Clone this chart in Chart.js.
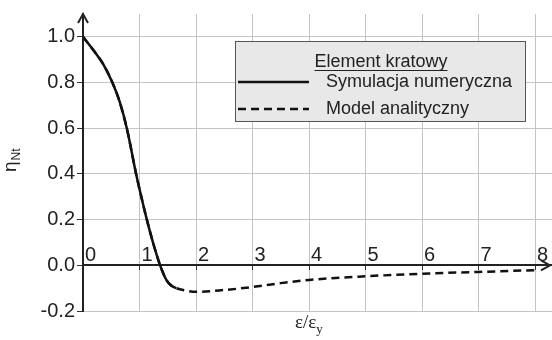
<!DOCTYPE html>
<html>
<head>
<meta charset="utf-8">
<script src="https://cdn.jsdelivr.net/npm/chart.js@4/dist/chart.umd.min.js"></script>
<style>
  body { margin: 0; background: #fff; }
  #wrap { width: 552px; height: 340px; position: relative; }
</style>
</head>
<body>
<div id="wrap"><canvas id="wykres"></canvas></div>
<script>
// eps/eps_y i eta_Nt
const xSymulacja = [0, 0.195, 0.36, 0.52, 0.65, 0.775, 0.94, 1.01, 1.13, 1.25, 1.365, 1.48, 1.56, 1.65];
const ySymulacja = [1.0, 0.938, 0.88, 0.8, 0.715, 0.6, 0.4, 0.323, 0.2, 0.09, 0.0, -0.066, -0.088, -0.1];

const xModel = [0, 0.195, 0.36, 0.52, 0.65, 0.775, 0.94, 1.01, 1.13, 1.25, 1.365, 1.48, 1.56, 1.65, 1.8, 2.0, 2.5, 3.0, 3.5, 4.0, 5.0, 6.0, 7.0, 8.0];
const yModel = [1.0, 0.938, 0.88, 0.8, 0.715, 0.6, 0.4, 0.323, 0.2, 0.09, 0.0, -0.066, -0.088, -0.1, -0.11, -0.116, -0.108, -0.095, -0.078, -0.064, -0.048, -0.037, -0.029, -0.021];

const xTicki = [0, 1, 2, 3, 4, 5, 6, 7, 8];
const yTicki = [-0.2, 0.0, 0.2, 0.4, 0.6, 0.8, 1.0];

const tytulLegendy = 'Element kratowy';
const FONT = '"Liberation Sans", Arial, sans-serif';

const pary = (xs, ys) => xs.map((x, i) => ({ x: x, y: ys[i] }));

// osie ze strzalkami, podpisy osi, etykiety x nad osia i legenda w ramce
const rysunekOsi = {
  id: 'rysunekOsi',
  afterDraw(chart) {
    const ctx = chart.ctx;
    const a = chart.chartArea;
    const sx = chart.scales.x, sy = chart.scales.y;
    const x0 = sx.getPixelForValue(0);
    const y0 = sy.getPixelForValue(0);
    ctx.save();

    // strzalki
    ctx.strokeStyle = '#222';
    ctx.lineWidth = 2;
    ctx.beginPath();
    ctx.moveTo(x0, sy.getPixelForValue(1.0));
    ctx.lineTo(x0, a.top);
    ctx.moveTo(x0 - 5, a.top + 9);
    ctx.lineTo(x0, a.top);
    ctx.lineTo(x0 + 5, a.top + 9);
    ctx.moveTo(a.right - 2, y0);
    ctx.lineTo(a.right - 11, y0 - 5);
    ctx.moveTo(a.right - 2, y0);
    ctx.lineTo(a.right - 11, y0 + 5);
    ctx.stroke();

    // etykiety osi x
    ctx.fillStyle = '#222';
    ctx.font = '20px ' + FONT;
    ctx.textAlign = 'left';
    ctx.textBaseline = 'alphabetic';
    xTicki.forEach(v => {
      ctx.fillText(String(v), sx.getPixelForValue(v) + 2, y0 - 4);
    });

    // tytul osi y: eta_Nt
    ctx.save();
    ctx.translate(16, 172);
    ctx.rotate(-Math.PI / 2);
    ctx.font = '19px ' + FONT;
    ctx.fillText('η', 0, 0);
    const wEta = ctx.measureText('η').width;
    ctx.font = '12px ' + FONT;
    ctx.fillText('Nt', wEta + 1, 4);
    ctx.restore();

    // tytul osi x: eps/eps_y
    ctx.font = '19px "Liberation Serif", "Times New Roman", serif';
    ctx.fillText('ε/ε', 295, 328);
    const wEps = ctx.measureText('ε/ε').width;
    ctx.font = '13px "Liberation Serif", "Times New Roman", serif';
    ctx.fillText('y', 295 + wEps, 333);

    // legenda
    ctx.fillStyle = '#e8e8e8';
    ctx.fillRect(235.5, 41.5, 290, 80);
    ctx.strokeStyle = '#555';
    ctx.lineWidth = 1;
    ctx.strokeRect(235.5, 41.5, 290, 80);

    ctx.fillStyle = '#222';
    ctx.font = '18px ' + FONT;
    ctx.textAlign = 'center';
    ctx.fillText(tytulLegendy, 381, 67);
    const wT = ctx.measureText(tytulLegendy).width;
    ctx.strokeStyle = '#222';
    ctx.beginPath();
    ctx.moveTo(381 - wT / 2, 70.5);
    ctx.lineTo(381 + wT / 2, 70.5);
    ctx.stroke();

    ctx.textAlign = 'left';
    ctx.textBaseline = 'middle';
    chart.data.datasets.forEach((ds, i) => {
      const yy = 82 + i * 27;
      ctx.strokeStyle = ds.borderColor;
      ctx.lineWidth = ds.borderWidth;
      ctx.setLineDash(ds.borderDash || []);
      ctx.beginPath();
      ctx.moveTo(238, yy);
      ctx.lineTo(309, yy);
      ctx.stroke();
      ctx.setLineDash([]);
      ctx.fillText(ds.label, 326, yy);
    });

    ctx.restore();
  }
};

new Chart(document.getElementById('wykres'), {
  type: 'line',
  data: {
    datasets: [{
      label: 'Symulacja numeryczna',
      data: pary(xSymulacja, ySymulacja),
      borderColor: '#111',
      borderWidth: 2.5,
      pointRadius: 0,
      cubicInterpolationMode: 'monotone',
      order: 0,
    }, {
      label: 'Model analityczny',
      data: pary(xModel, yModel),
      borderColor: '#111',
      borderWidth: 2.5,
      borderDash: [8, 5],
      pointRadius: 0,
      cubicInterpolationMode: 'monotone',
      order: 1,
    }],
  },
  options: {
    responsive: true,
    maintainAspectRatio: false,
    animation: false,
    layout: { padding: { top: 10, right: 0, bottom: 29, left: 0 } },
    plugins: {
      legend: { display: false },
      tooltip: { enabled: false },
    },
    scales: {
      x: {
        type: 'linear',
        position: { y: 0 },
        min: 0,
        max: 8.3,
        afterBuildTicks: s => { s.ticks = xTicki.map(v => ({ value: v })); },
        ticks: { display: false },
        grid: { color: '#c4c4c4', lineWidth: 1, tickLength: 4, tickColor: '#333' },
        border: { color: '#222', width: 2 },
      },
      y: {
        type: 'linear',
        position: 'left',
        min: -0.2,
        max: 1.1,
        afterBuildTicks: s => { s.ticks = yTicki.map(v => ({ value: v })); },
        afterFit: s => { s.width = 83; },
        ticks: {
          callback: v => v.toFixed(1),
          font: { size: 20, family: FONT },
          color: '#222',
          padding: 2,
        },
        grid: { color: '#c4c4c4', lineWidth: 1, tickLength: 6, tickColor: '#333' },
        border: { color: '#222', width: 2 },
      },
    },
  },
  plugins: [rysunekOsi],
});
</script>
</body>
</html>
